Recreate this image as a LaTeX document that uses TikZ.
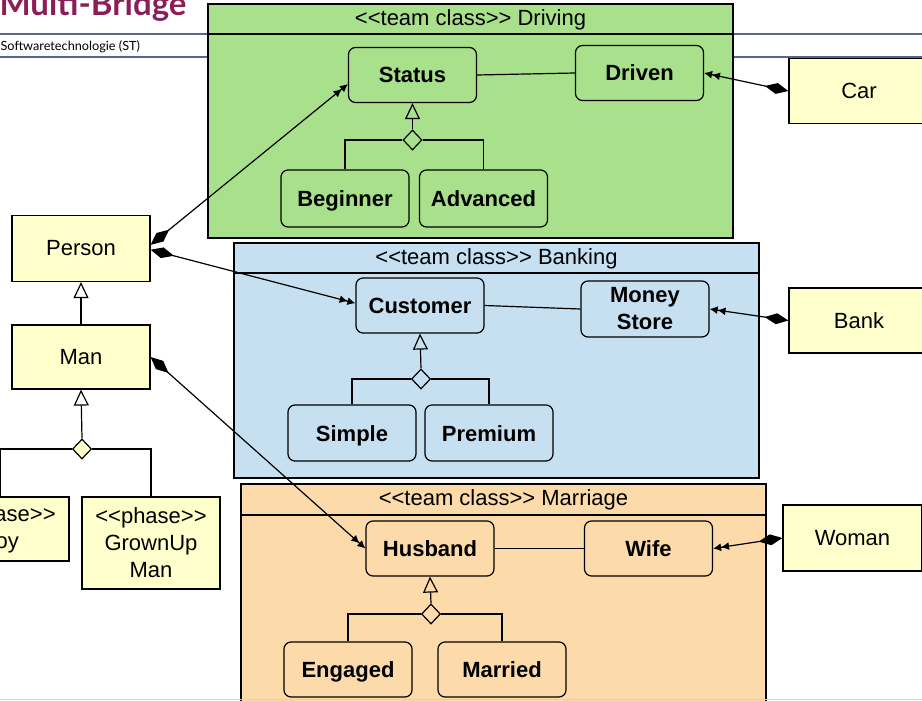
\documentclass[tikz,border=0pt]{standalone}
\usepackage{fontspec}
\setmainfont{Liberation Sans}
\newfontfamily\latofont{Lato}
\usetikzlibrary{
  arrows.meta,
  positioning,
  shapes.geometric,
}
\definecolor{drivegreen}{RGB}{169,224,140}
\definecolor{bankblue}{RGB}{198,223,241}
\definecolor{marryorange}{RGB}{252,218,170}
\definecolor{baseyellow}{RGB}{255,255,204}
\definecolor{slideline}{RGB}{90,100,140}
\definecolor{titlered}{RGB}{139,30,86}
\newcommand{\stereo}[1]{<\kern0pt<#1>\kern0pt>}
\tikzset{
  baseclass/.style={rectangle,draw,fill=baseyellow,minimum width=138,minimum height=66,font=\fontsize{22}{27}\selectfont,align=center},
  roleclass/.style={rectangle,rounded corners=7pt,draw,minimum width=128,minimum height=55,font=\bfseries\fontsize{22}{27}\selectfont,align=center,text height=16pt,text depth=0pt},
  teambox/.style={draw,line width=1.7pt},
  teamhead/.style={font=\fontsize{22}{26}\selectfont},
  gen/.style={-{Triangle[open,length=16pt,width=15pt]}},
  fork/.style={diamond,draw,inner sep=0pt,minimum width=19,minimum height=20},
  assoc/.style={arrows={Diamond[length=24pt,width=11pt]-Latex[length=8pt,width=8pt]Latex[length=8pt,width=8pt]}},
}

\begin{document}
\begin{tikzpicture}[x=1pt,y=-1pt,line width=1.2pt]
  \useasboundingbox (0,0) rectangle (922,701);

  % slide header
  \draw[slideline] (0,34) -- (922,34);
  \draw[slideline] (0,57) -- (922,57);
  \node[anchor=base west,inner sep=0,text=titlered,font=\latofont\bfseries\fontsize{33}{33}\selectfont] (title) at (-1,16) {Multi-Bridge};
  \node[anchor=base west,inner sep=0,font=\latofont\fontsize{12.7}{14}\selectfont] (subtitle) at (0,51) {Softwaretechnologie (ST)};

  % team Driving
  \draw[teambox,fill=drivegreen] (208,4) rectangle (733,238);
  \draw[teambox] (208,34) -- (733,34);
  \node[teamhead] (drivinghead) at (470.5,19.5) {\stereo{team class} Driving};
  \node[roleclass] (status) at (412.5,75) {Status};
  \node[roleclass] (driven) at (639.5,73) {Driven};
  \node[roleclass,minimum height=57] (beginner) at (345,198.5) {Beginner};
  \node[roleclass,minimum height=57] (advanced) at (483.5,198.5) {Advanced};
  \node[fork,fill=drivegreen] (statusfork) at (412.5,140) {};
  \draw[gen] (statusfork.north) -- (status.south);
  \draw (statusfork.west) -| (beginner.north);
  \draw (statusfork.east) -| (advanced.north);
  \draw (status.east) -- (driven.west);

  % team Banking
  \draw[teambox,fill=bankblue] (234,243) rectangle (759,478);
  \draw[teambox] (234,273) -- (759,273);
  \node[teamhead] (bankinghead) at (496.5,258.5) {\stereo{team class} Banking};
  \node[roleclass] (customer) at (420,305.5) {Customer};
  \node[roleclass,minimum height=56,text height={},text depth={}] (moneystore) at (645,309) {Money\\Store};
  \node[roleclass,minimum height=56] (simple) at (352,433) {Simple};
  \node[roleclass,minimum height=56] (premium) at (489,433) {Premium};
  \node[fork,fill=bankblue] (customerfork) at (421,379) {};
  \draw[gen] (customerfork.north) -- (customer.south);
  \draw (customerfork.west) -| (simple.north);
  \draw (customerfork.east) -| (premium.north);
  \draw (customer.east) -- (moneystore.west);

  % team Marriage
  \draw[teambox,fill=marryorange] (241,484) rectangle (766,712);
  \draw[teambox] (241,515) -- (766,515);
  \node[teamhead] (marriagehead) at (503.5,499.5) {\stereo{team class} Marriage};
  \node[roleclass] (husband) at (430,548.5) {Husband};
  \node[roleclass] (wife) at (648.5,548.5) {Wife};
  \node[roleclass] (engaged) at (348,669.5) {Engaged};
  \node[roleclass] (married) at (502,669.5) {Married};
  \node[fork,fill=marryorange] (husbandfork) at (431,614) {};
  \draw[gen] (husbandfork.north) -- (husband.south);
  \draw (husbandfork.west) -| (engaged.north);
  \draw (husbandfork.east) -| (married.north);
  \draw (husband.east) -- (wife.west);
  \draw[gray!35,line width=1.5pt] (0,699.5) -- (922,699.5);

  % base classes
  \node[baseclass] (person) at (81,248.5) {Person};
  \node[baseclass,minimum height=64] (man) at (81,357) {Man};
  \node[baseclass,minimum height=64] (boy) at (0,529) {\stereo{phase}\\Boy};
  \node[baseclass,minimum height=92] (grownup) at (151,543) {\stereo{phase}\\GrownUp\\Man};
  \node[fork,fill=baseyellow] (manfork) at (82,449) {};
  \draw[gen] (man.north) -- (person.south);
  \draw[gen] (manfork.north) -- (man.south);
  \draw (manfork.west) -| (boy.north);
  \draw (manfork.east) -| (grownup.north);
  \node[baseclass,minimum width=140,minimum height=65] (car) at (859,91) {Car};
  \node[baseclass,minimum width=140,minimum height=65] (bank) at (859,320.5) {Bank};
  \node[baseclass,minimum width=139] (woman) at (852.5,538) {Woman};

  % playedBy
  \draw[assoc] (person.3) -- (status.188);
  \draw[assoc] (person.-1) -- (customer.178);
  \draw[assoc] (man.east) -- (husband.west);
  \draw[assoc] (car.west) -- (driven.east);
  \draw[assoc] (bank.west) -- (moneystore.east);
  \draw[assoc] (woman.west) -- (wife.east);

\end{tikzpicture}
\end{document}
